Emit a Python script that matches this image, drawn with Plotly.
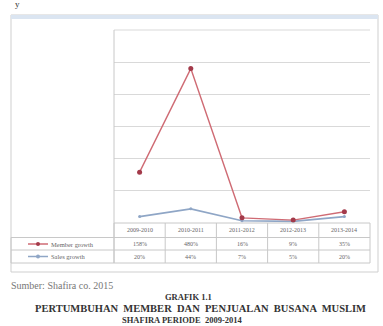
import plotly.graph_objects as go

periods = ["2009-2010", "2010-2011", "2011-2012", "2012-2013", "2013-2014"]
member_growth = [158, 480, 16, 9, 35]
sales_growth = [20, 44, 7, 5, 20]
member_labels = ["158%", "480%", "16%", "9%", "35%"]
sales_labels = ["20%", "44%", "7%", "5%", "20%"]
series_names = ["Member growth", "Sales growth"]

W, H = 383, 326
L, R, T, B = 114, 370, 30, 223


def px(x):
    return (x - L) / (R - L)


def py(y):
    return (B - y) / (B - T)


fig = go.Figure()
fig.add_trace(go.Scatter(x=periods, y=sales_growth, mode="lines+markers",
                         line=dict(color="#8fa6c6", width=1.7),
                         marker=dict(size=3, color="#8fa6c6"), showlegend=False))
fig.add_trace(go.Scatter(x=periods, y=member_growth, mode="lines+markers",
                         line=dict(color="#cf6b74", width=1.4),
                         marker=dict(size=5, color="#a33a4a"), showlegend=False))

shapes = []
# outer chart frame
shapes.append(dict(type="rect", xref="paper", yref="paper", x0=px(11), x1=px(378), y0=py(272), y1=py(15),
                   line=dict(color="#cfcfcf", width=1), fillcolor="rgba(0,0,0,0)", layer="below"))
shapes.append(dict(type="rect", xref="paper", yref="paper", x0=px(11), x1=px(378), y0=py(19), y1=py(15),
                   line=dict(width=0), fillcolor="#dbe5f1", layer="below"))
# top gridline and plot left border
shapes.append(dict(type="line", xref="paper", yref="paper", x0=0, x1=1, y0=1, y1=1,
                   line=dict(color="#d9d9d9", width=1), layer="below"))
shapes.append(dict(type="line", xref="paper", yref="paper", x0=0, x1=0, y0=py(263), y1=1,
                   line=dict(color="#c8c8c8", width=1)))
# table horizontal lines
for yy in [223, 237.5, 250, 263]:
    x0 = px(11) if yy != 223 else 0
    shapes.append(dict(type="line", xref="paper", yref="paper", x0=x0, x1=1, y0=py(yy), y1=py(yy),
                       line=dict(color="#c8c8c8", width=1)))
# table vertical lines
for i in range(len(periods) + 1):
    xx = L + i * (R - L) / len(periods)
    shapes.append(dict(type="line", xref="paper", yref="paper", x0=px(xx), x1=px(xx), y0=py(263), y1=py(223),
                       line=dict(color="#c8c8c8", width=1)))
shapes.append(dict(type="line", xref="paper", yref="paper", x0=px(11), x1=px(11), y0=py(263), y1=py(237.5),
                   line=dict(color="#c8c8c8", width=1)))
# legend keys
for yy, col, mcol in [(244, "#cf6b74", "#a33a4a"), (256.5, "#8fa6c6", "#8fa6c6")]:
    shapes.append(dict(type="line", xref="paper", yref="paper", x0=px(28), x1=px(48), y0=py(yy), y1=py(yy),
                       line=dict(color=col, width=1.5)))
    shapes.append(dict(type="circle", xref="paper", yref="paper", x0=px(36), x1=px(40), y0=py(yy + 2), y1=py(yy - 2),
                       line=dict(width=0), fillcolor=mcol))


def note(x, y, text, font, xanchor="center"):
    return dict(x=px(x), y=py(y), xref="paper", yref="paper", text=text, showarrow=False,
                xanchor=xanchor, yanchor="middle", font=font)


ann = []
cell_font = dict(family="Liberation Serif", size=6, color="#666")
for i, p in enumerate(periods):
    xx = L + (i + 0.5) * (R - L) / len(periods)
    ann.append(note(xx, 230, p, cell_font))
    ann.append(note(xx, 244, member_labels[i], cell_font))
    ann.append(note(xx, 256.5, sales_labels[i], cell_font))
for yy, nm in [(244, series_names[0]), (256.5, series_names[1])]:
    ann.append(note(49, yy, nm, dict(family="Liberation Serif", size=6.5, color="#666"), xanchor="left"))

ann.append(note(9, 285, "Sumber: Shafira co. 2015",
                dict(family="Liberation Serif", size=10, color="#777"), xanchor="left"))
title_font = dict(family="Liberation Serif", size=8.5, color="#333")
ann.append(note(188, 296.5, "<b>GRAFIK 1.1</b>", title_font))
ann.append(note(200, 308.5, "<b>PERTUMBUHAN  MEMBER  DAN  PENJUALAN  BUSANA  MUSLIM</b>",
                dict(family="Liberation Serif", size=10.5, color="#333")))
ann.append(note(182, 319.5, "<b>SHAFIRA PERIODE  2009-2014</b>", title_font))
ann.append(note(17, 4, "y", dict(family="Liberation Serif", size=9, color="#333")))

fig.update_layout(
    width=W, height=H, autosize=False,
    margin=dict(l=L, r=W - R, t=T, b=H - B),
    paper_bgcolor="white", plot_bgcolor="white",
    xaxis=dict(showticklabels=False, showgrid=False, zeroline=False, showline=False, ticks="",
               range=[-0.5, len(periods) - 0.5]),
    yaxis=dict(range=[0, 600], dtick=100, showticklabels=False, showgrid=True, gridcolor="#d9d9d9",
               gridwidth=1, zeroline=False, showline=False, ticks=""),
    shapes=shapes, annotations=ann,
)

fig.write_html("out.html")
